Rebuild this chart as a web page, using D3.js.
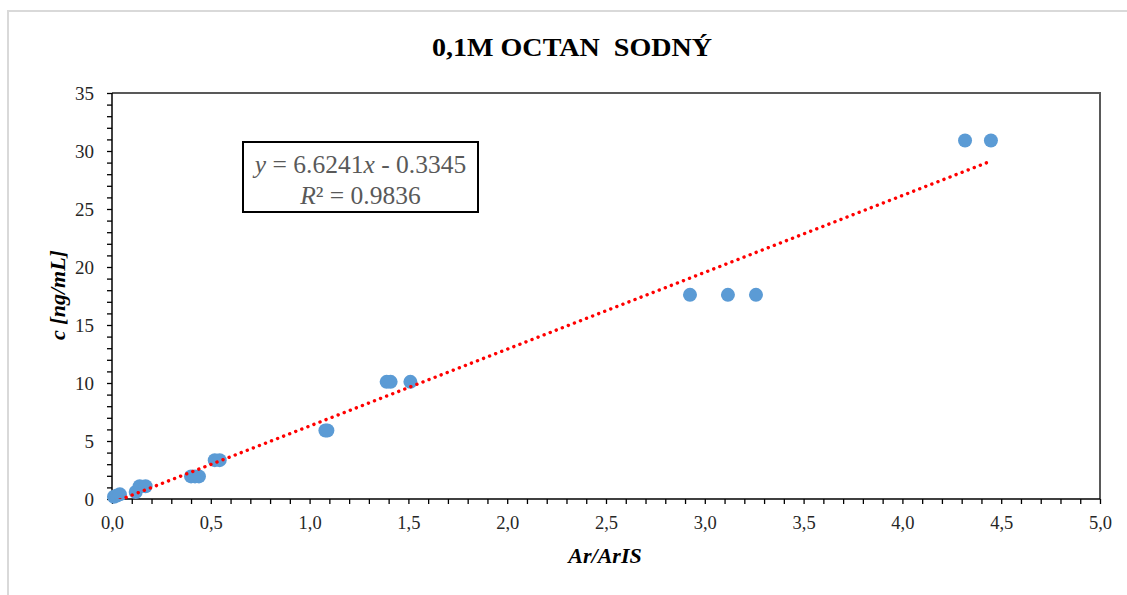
<!DOCTYPE html>
<html><head><meta charset="utf-8">
<script src="https://cdn.jsdelivr.net/npm/d3@7"></script>
<style>body{margin:0;background:#fff}svg{display:block}
svg text{font-family:"Liberation Serif","Times New Roman","DejaVu Serif",serif;}</style>
</head><body>
<svg id="c" width="1127" height="595"></svg>
<script>
const xVals = [0.01,0.025,0.04, 0.12,0.14,0.17, 0.40,0.42,0.44, 0.52,0.545, 1.08,1.09, 1.39,1.41,1.51, 2.925,3.117,3.259, 4.317,4.448];
const yVals = [0.2,0.3,0.4, 0.6,1.1,1.1, 1.95,1.95,1.95, 3.35,3.35, 5.9,5.9, 10.1,10.1,10.1, 17.6,17.6,17.6, 30.9,30.9];
const xTicks = [0,0.5,1,1.5,2,2.5,3,3.5,4,4.5,5];
const yTicks = [0,5,10,15,20,25,30,35];
const slope = 6.6241, intercept = -0.3345, r2 = 0.9836;
const title = "0,1M OCTAN  SODNÝ";
const xTitle = "Ar/ArIS", yTitle = "c [ng/mL]";

const svg = d3.select("#c");
const L=112,R=1100,T=93,B=499;
const x = d3.scaleLinear().domain([0,5]).range([L,R]);
const y = d3.scaleLinear().domain([0,35]).range([B,T]);
const serif = '"Liberation Serif","Times New Roman","DejaVu Serif",serif';

// outer frame
svg.append("path").attr("d",`M8,595V11H1127`).attr("fill","none").attr("stroke","#d9d9d9").attr("stroke-width",2);

// title
svg.append("text").attr("x",572).attr("y",56).attr("text-anchor","middle")
  .style("font-family",serif).attr("font-weight","bold").attr("font-size",25)
  .attr("textLength",280).attr("lengthAdjust","spacingAndGlyphs")
  .style("white-space","pre").text(title);

// plot border top/right
svg.append("path").attr("d",`M${L},${T}H${R}V${B}`).attr("fill","none").attr("stroke","#595959").attr("stroke-width",2);

// axes
const xAxis = d3.axisBottom(x).tickValues(d3.range(0,51).map(d=>d/10)).tickSize(5)
  .tickFormat(d=> xTicks.some(t=>Math.abs(t-d)<1e-9) ? d3.format(".1f")(d).replace(".",",") : "");
const gx = svg.append("g").attr("transform",`translate(0,${B})`).call(xAxis);
gx.attr("font-family",null);
gx.select(".domain").attr("stroke","#000").attr("stroke-width",1.5).attr("d",`M${L},0H${R}`);
gx.selectAll(".tick line").attr("stroke","#000").attr("stroke-width",1.3);
gx.selectAll("text").style("font-family",serif).attr("font-size",18.5).attr("fill","#262626").attr("dy","1.2em");

const yAxis = d3.axisLeft(y).tickValues(d3.range(0,36)).tickSize(5)
  .tickFormat(d=> yTicks.includes(d) ? String(d) : "");
const gy = svg.append("g").attr("transform",`translate(${L},0)`).call(yAxis);
gy.attr("font-family",null);
gy.select(".domain").attr("stroke","#000").attr("stroke-width",1.5).attr("d",`M0,${B}V${T}`);
gy.selectAll(".tick line").attr("stroke","#000").attr("stroke-width",1.3);
gy.selectAll("text").style("font-family",serif).attr("font-size",19).attr("fill","#262626").attr("x",-18);

// axis titles
svg.append("text").attr("x",605).attr("y",563).attr("text-anchor","middle")
  .style("font-family",serif).attr("font-weight","bold").attr("font-style","italic").attr("font-size",22).text(xTitle);
svg.append("text").attr("transform","translate(65,295) rotate(-90)").attr("text-anchor","middle")
  .style("font-family",serif).attr("font-weight","bold").attr("font-style","italic").attr("font-size",22).text(yTitle);

// clip
svg.append("clipPath").attr("id","pc").append("rect").attr("x",L).attr("y",T).attr("width",R-L).attr("height",B-T);

// points
const pts = xVals.map((v,i)=>({x:v,y:yVals[i]}));
svg.append("g").selectAll("circle").data(pts).join("circle")
  .attr("cx",d=>x(d.x)).attr("cy",d=>y(d.y)).attr("r",7).attr("fill","#5b9bd5");

// trendline
const x0 = d3.min(xVals), x1 = d3.max(xVals);
svg.append("line").attr("clip-path","url(#pc)")
  .attr("x1",x(x0)).attr("y1",y(slope*x0+intercept)).attr("x2",x(x1)).attr("y2",y(slope*x1+intercept))
  .attr("stroke","#ff0000").attr("stroke-width",3.4).attr("stroke-linecap","round").attr("stroke-dasharray","0.1 6.4");

// equation box
svg.append("rect").attr("x",243).attr("y",142).attr("width",235).attr("height",70).attr("fill","#fff").attr("stroke","#000").attr("stroke-width",2);
const eq = svg.append("text").attr("x",360.5).attr("y",173).attr("text-anchor","middle")
  .style("font-family",serif).attr("font-size",25.5).attr("fill","#595959");
eq.append("tspan").attr("font-style","italic").text("y");
eq.append("tspan").text(" = " + slope + "");
eq.append("tspan").attr("font-style","italic").text("x");
eq.append("tspan").text(" - " + Math.abs(intercept));
const eq2 = svg.append("text").attr("x",360.5).attr("y",204).attr("text-anchor","middle")
  .style("font-family",serif).attr("font-size",25.5).attr("fill","#595959");
eq2.append("tspan").attr("font-style","italic").text("R");
eq2.append("tspan").text("² = " + r2);
</script>
</body></html>
